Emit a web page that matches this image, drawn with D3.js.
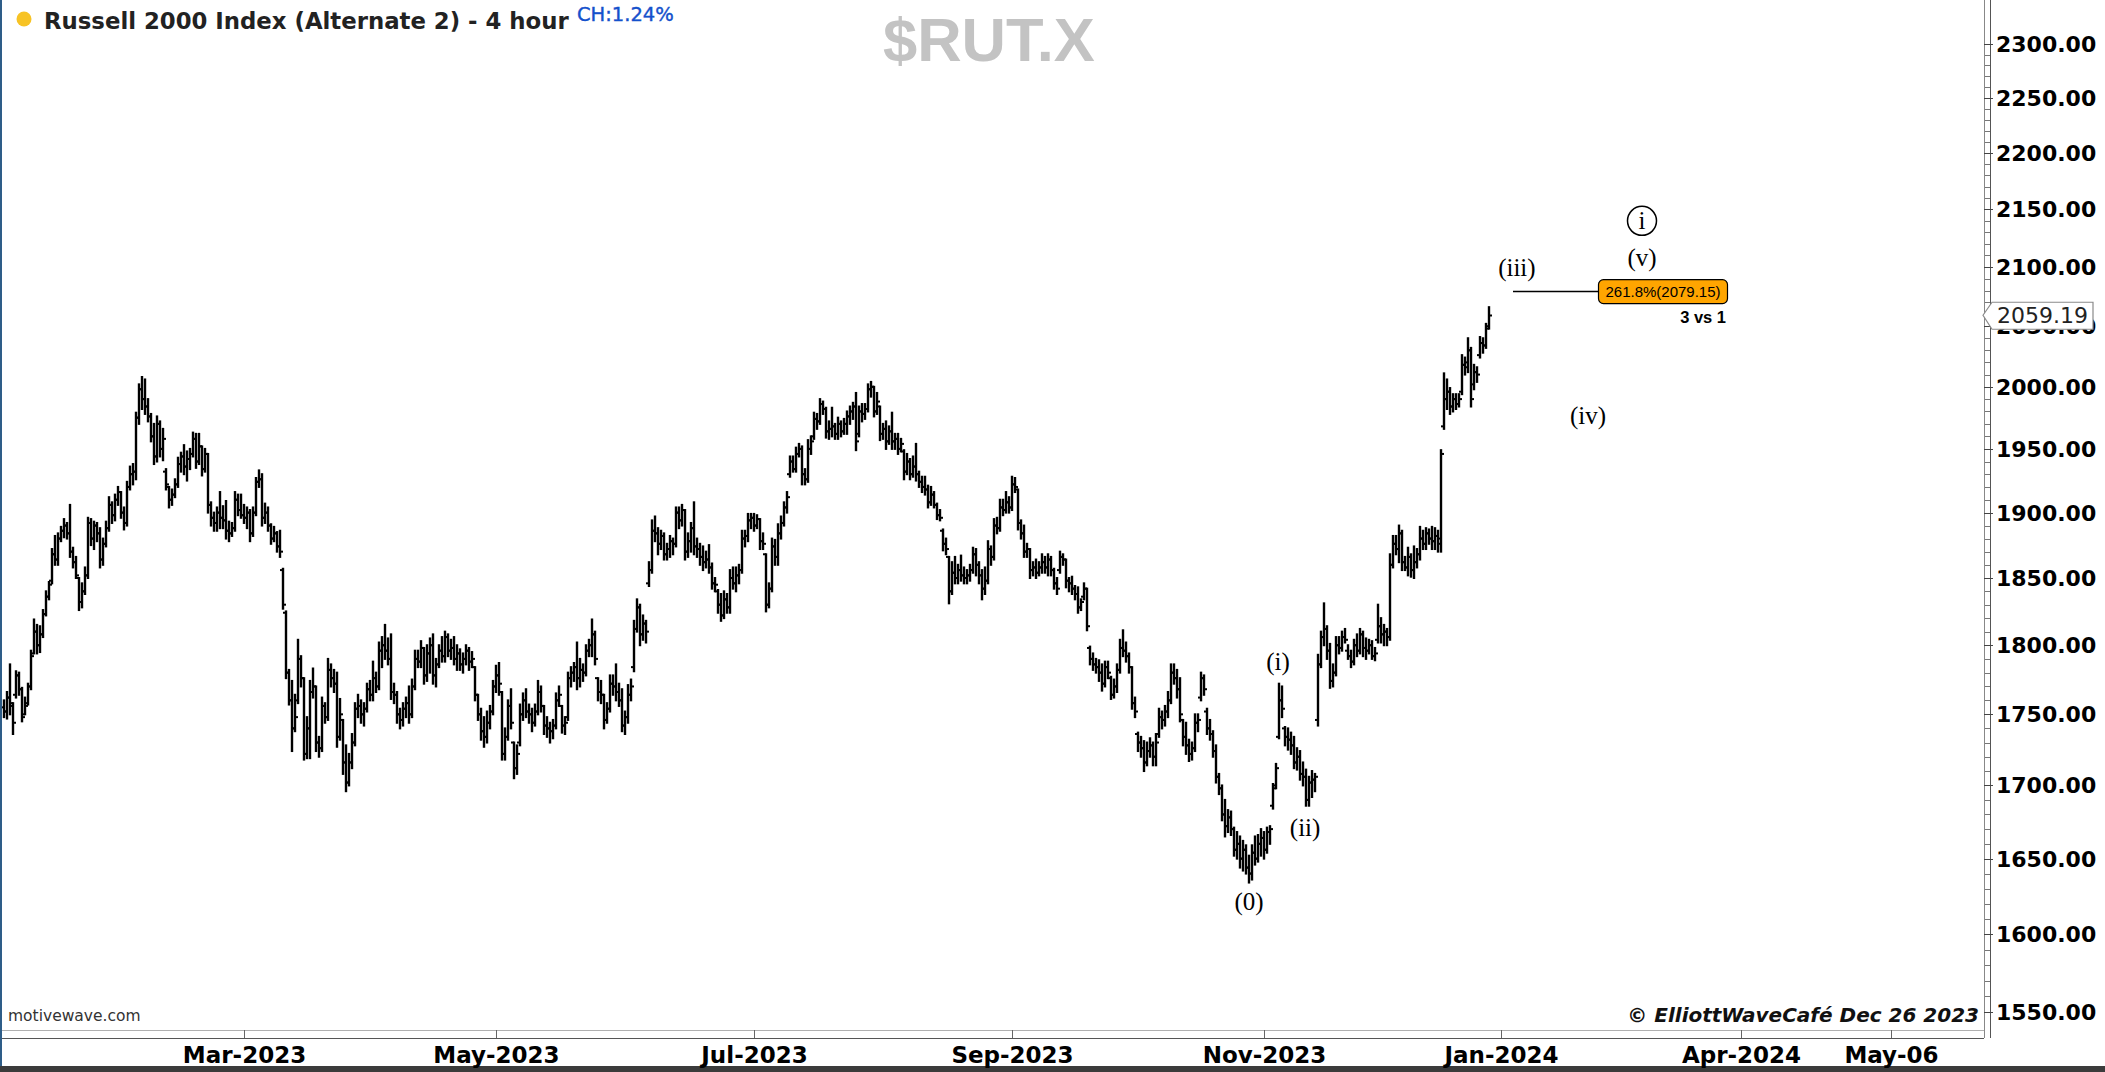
<!DOCTYPE html>
<html><head><meta charset="utf-8">
<script src="https://cdn.jsdelivr.net/npm/d3@7"></script>
<style>html,body{margin:0;padding:0;background:#fff;overflow:hidden}</style>
</head><body>
<svg id="chart" width="2105" height="1072"></svg>
<script>
// ---- 4-hour OHLC bars, Russell 2000 ($RUT.X), Jan 3 2023 - Dec 26 2023 ----
const open = [
1755,1752,1762,1756,1764,1778,1768,1750,1758,1770,
1794,1810,1800,1808,1823,1836,1848,1868,1864,1880,
1886,1890,1884,1870,1862,1850,1832,1840,1852,1892,
1880,1890,1884,1864,1876,1888,1906,1898,1910,1916,
1900,1892,1920,1930,1932,1975,1998,1990,1984,1976,
1960,1944,1970,1950,1932,1920,1910,1914,1922,1938,
1944,1936,1942,1946,1958,1940,1952,1934,1946,1906,
1896,1892,1900,1896,1894,1886,1884,1888,1910,1902,
1898,1896,1900,1884,1900,1924,1926,1896,1900,1890,
1880,1884,1874,1856,1824,1780,1760,1740,1760,1790,
1776,1722,1740,1766,1770,1730,1726,1756,1748,1782,
1776,1772,1734,1746,1716,1702,1716,1730,1754,1756,
1750,1754,1768,1764,1776,1770,1796,1800,1796,1790,
1766,1764,1750,1746,1754,1758,1750,1770,1790,1788,
1798,1778,1794,1800,1778,1786,1796,1792,1806,1796,
1798,1790,1794,1786,1790,1796,1788,1784,1764,1750,
1738,1734,1744,1752,1770,1778,1766,1722,1734,1756,
1730,1712,1730,1750,1760,1752,1750,1744,1752,1766,
1756,1742,1740,1738,1742,1760,1756,1742,1748,1776,
1780,1784,1776,1782,1780,1796,1800,1808,1776,1766,
1764,1746,1754,1772,1770,1766,1760,1742,1748,1764,
1784,1812,1828,1808,1816,1846,1856,1886,1884,1876,
1882,1868,1872,1878,1876,1900,1894,1902,1870,1878,
1888,1874,1872,1866,1862,1864,1858,1846,1840,1830,
1822,1834,1828,1850,1846,1852,1856,1880,1882,1894,
1896,1890,1895,1878,1868,1830,1842,1874,1866,1884,
1892,1904,1930,1940,1934,1946,1950,1930,1926,1950,
1960,1974,1972,1986,1982,1964,1966,1968,1962,1970,
1964,1970,1976,1980,1984,1962,1980,1978,1982,1998,
2000,1980,1984,1962,1966,1956,1964,1956,1958,1950,
1948,1932,1940,1930,1936,1930,1924,1920,1918,1908,
1914,1906,1898,1886,1876,1866,1840,1854,1850,1856,
1852,1850,1852,1856,1868,1860,1852,1842,1848,1872,
1866,1890,1888,1904,1902,1908,1904,1922,1918,1892,
1884,1870,1872,1856,1858,1854,1858,1862,1858,1864,
1856,1846,1856,1866,1864,1848,1846,1842,1838,1828,
1836,1842,1798,1790,1786,1784,1780,1772,1784,1776,
1764,1770,1782,1798,1796,1792,1784,1758,1736,1730,
1726,1716,1724,1728,1720,1736,1748,1746,1752,1760,
1780,1776,1768,1746,1734,1728,1722,1726,1744,1762,
1776,1752,1740,1736,1724,1706,1698,1680,1672,1678,
1670,1656,1660,1650,1656,1644,1640,1654,1650,1660,
1664,1656,1668,1686,1700,1734,1760,1740,1734,1732,
1728,1716,1720,1708,1706,1690,1702,1704,1746,1786,
1806,1812,1796,1774,1780,1800,1798,1806,1796,1792,
1788,1800,1796,1808,1798,1796,1800,1792,1804,1814,
1808,1810,1806,1860,1876,1872,1884,1862,1858,1866,
1856,1862,1868,1880,1876,1884,1880,1878,1882,1876,
1968,1990,1996,1984,1990,1986,1996,2018,2020,2030,
2002,2012,2026,2036,2034,2050];
const high = [
1760,1766,1786,1758,1781,1780,1769,1762,1772,1796,
1819,1815,1814,1826,1840,1847,1872,1882,1884,1889,
1895,1892,1906,1873,1866,1850,1846,1858,1896,1895,
1893,1892,1888,1880,1893,1912,1908,1914,1920,1916,
1904,1924,1936,1938,1979,2002,2008,2006,1990,1978,
1970,1976,1972,1966,1934,1920,1918,1926,1943,1947,
1953,1948,1950,1963,1962,1962,1952,1950,1946,1908,
1900,1904,1916,1905,1909,1893,1892,1916,1914,1914,
1906,1904,1902,1904,1927,1933,1930,1907,1904,1891,
1889,1885,1886,1857,1825,1782,1774,1764,1804,1792,
1776,1748,1774,1783,1770,1734,1762,1758,1790,1786,
1782,1780,1761,1746,1728,1722,1736,1758,1764,1760,
1758,1772,1774,1788,1780,1802,1806,1815,1805,1808,
1772,1766,1754,1758,1762,1770,1775,1796,1796,1803,
1798,1800,1805,1808,1790,1800,1806,1810,1808,1804,
1806,1800,1797,1794,1800,1798,1795,1784,1764,1754,
1748,1752,1756,1774,1785,1787,1766,1740,1760,1768,
1730,1728,1757,1765,1768,1757,1754,1757,1774,1770,
1756,1748,1744,1746,1765,1770,1756,1748,1780,1784,
1787,1802,1790,1786,1800,1804,1819,1810,1776,1774,
1764,1758,1778,1778,1786,1772,1768,1752,1771,1775,
1818,1834,1830,1822,1818,1862,1894,1897,1888,1886,
1884,1876,1882,1880,1904,1904,1906,1902,1884,1892,
1908,1880,1876,1874,1870,1875,1861,1850,1841,1838,
1840,1838,1856,1858,1858,1860,1886,1886,1899,1899,
1899,1898,1895,1884,1868,1846,1880,1879,1891,1897,
1908,1916,1944,1944,1951,1954,1952,1934,1957,1960,
1979,1978,1990,1988,1983,1972,1983,1970,1975,1972,
1974,1980,1984,1987,1995,1984,1986,1986,2002,2004,
2000,1995,1984,1970,1972,1968,1979,1962,1962,1958,
1949,1946,1942,1944,1954,1932,1928,1928,1921,1920,
1916,1907,1902,1887,1880,1866,1862,1866,1860,1867,
1858,1856,1860,1873,1872,1862,1856,1858,1878,1874,
1895,1896,1910,1910,1916,1912,1928,1927,1918,1894,
1890,1876,1872,1862,1864,1862,1868,1866,1868,1866,
1857,1850,1870,1868,1864,1850,1851,1844,1843,1834,
1846,1842,1799,1794,1790,1789,1786,1788,1788,1777,
1775,1786,1804,1811,1802,1794,1784,1762,1737,1734,
1731,1730,1733,1730,1736,1754,1752,1756,1766,1786,
1786,1782,1776,1746,1744,1732,1730,1750,1750,1780,
1778,1754,1746,1738,1728,1708,1700,1690,1683,1682,
1671,1668,1665,1662,1659,1652,1659,1665,1666,1670,
1668,1671,1672,1701,1715,1772,1770,1741,1740,1737,
1734,1726,1724,1716,1711,1706,1710,1708,1793,1810,
1831,1814,1801,1786,1806,1806,1810,1812,1800,1796,
1804,1808,1812,1810,1805,1804,1803,1798,1830,1820,
1815,1812,1868,1882,1882,1890,1886,1866,1873,1868,
1874,1872,1889,1886,1888,1887,1889,1888,1886,1949,
2011,2006,1999,1994,1994,1994,2026,2024,2040,2032,
2018,2016,2041,2040,2052,2066];
const low = [
1748,1747,1750,1736,1762,1764,1745,1750,1757,1768,
1794,1794,1795,1806,1822,1834,1846,1860,1860,1878,
1881,1880,1866,1858,1850,1826,1828,1838,1850,1875,
1872,1878,1858,1860,1874,1886,1892,1894,1906,1896,
1887,1890,1918,1922,1926,1970,1982,1978,1972,1956,
1938,1940,1944,1941,1918,1904,1906,1912,1920,1932,
1930,1925,1934,1944,1935,1938,1929,1932,1900,1890,
1886,1886,1888,1888,1880,1878,1882,1886,1898,1896,
1892,1888,1878,1882,1898,1920,1890,1892,1886,1876,
1878,1870,1866,1827,1776,1757,1724,1738,1758,1770,
1718,1719,1719,1762,1724,1720,1724,1744,1746,1770,
1766,1727,1732,1708,1696,1700,1712,1728,1748,1744,
1742,1752,1760,1760,1766,1768,1784,1790,1786,1761,
1758,1744,1740,1742,1748,1744,1748,1768,1784,1784,
1772,1774,1780,1772,1770,1784,1788,1788,1792,1790,
1786,1782,1782,1780,1786,1782,1784,1760,1746,1732,
1727,1730,1740,1750,1766,1764,1718,1718,1732,1740,
1705,1708,1728,1746,1748,1744,1738,1742,1750,1752,
1736,1734,1730,1733,1740,1756,1737,1736,1746,1770,
1774,1768,1770,1774,1778,1792,1792,1786,1760,1758,
1740,1744,1752,1764,1760,1756,1738,1736,1744,1760,
1781,1810,1800,1804,1802,1844,1854,1878,1868,1872,
1864,1864,1866,1868,1874,1888,1890,1864,1866,1870,
1868,1866,1860,1856,1858,1854,1842,1840,1824,1818,
1820,1824,1824,1842,1840,1846,1854,1874,1878,1888,
1886,1888,1872,1872,1825,1828,1840,1860,1860,1880,
1890,1900,1928,1932,1932,1944,1922,1922,1924,1946,
1958,1966,1970,1978,1959,1958,1960,1958,1958,1960,
1962,1962,1970,1974,1949,1960,1972,1974,1980,1992,
1976,1978,1957,1958,1950,1954,1950,1950,1946,1948,
1926,1930,1926,1928,1925,1920,1916,1914,1904,1906,
1904,1895,1894,1871,1868,1831,1838,1846,1846,1848,
1846,1846,1848,1854,1852,1846,1834,1838,1846,1860,
1864,1884,1886,1898,1900,1900,1902,1916,1887,1880,
1866,1866,1850,1852,1850,1852,1854,1854,1852,1852,
1842,1838,1854,1860,1843,1840,1838,1834,1824,1826,
1834,1811,1786,1782,1780,1774,1767,1770,1776,1761,
1762,1766,1780,1792,1788,1780,1754,1748,1724,1720,
1710,1714,1720,1714,1714,1734,1740,1742,1748,1758,
1772,1762,1745,1728,1722,1717,1718,1724,1738,1760,
1764,1736,1732,1720,1702,1694,1676,1665,1668,1666,
1652,1650,1644,1642,1640,1634,1636,1646,1648,1652,
1650,1654,1660,1684,1698,1733,1748,1728,1725,1722,
1712,1711,1704,1700,1686,1686,1692,1696,1742,1784,
1800,1790,1769,1770,1778,1794,1796,1802,1790,1784,
1786,1792,1794,1792,1790,1794,1790,1789,1802,1802,
1800,1800,1804,1858,1868,1862,1856,1856,1852,1851,
1850,1858,1864,1872,1872,1876,1872,1872,1870,1870,
1966,1982,1978,1980,1982,1984,1994,2010,2012,1984,
1998,2004,2024,2028,2032,2048];
const close = [
1752,1762,1758,1744,1778,1768,1748,1756,1770,1792,
1810,1800,1808,1823,1836,1845,1868,1864,1880,1886,
1890,1884,1870,1862,1852,1832,1840,1852,1892,1880,
1890,1884,1864,1876,1888,1906,1898,1910,1916,1900,
1892,1920,1930,1932,1975,1998,1990,1984,1976,1960,
1944,1970,1950,1958,1922,1910,1914,1922,1938,1944,
1936,1942,1946,1958,1940,1952,1934,1946,1906,1896,
1892,1900,1896,1894,1886,1884,1888,1910,1902,1898,
1896,1900,1884,1900,1924,1926,1896,1900,1890,1880,
1884,1874,1870,1830,1780,1760,1740,1748,1790,1776,
1722,1740,1766,1770,1730,1726,1756,1748,1782,1776,
1772,1734,1750,1716,1702,1716,1730,1754,1756,1750,
1754,1768,1764,1776,1770,1796,1800,1796,1790,1766,
1764,1750,1746,1754,1758,1750,1770,1790,1788,1798,
1778,1794,1800,1778,1786,1796,1792,1806,1796,1798,
1790,1794,1786,1790,1796,1788,1790,1764,1750,1738,
1734,1744,1752,1770,1778,1772,1722,1734,1756,1744,
1712,1722,1750,1760,1752,1750,1744,1752,1766,1756,
1742,1740,1738,1742,1760,1764,1742,1744,1776,1780,
1784,1776,1782,1780,1796,1800,1808,1790,1766,1764,
1746,1754,1772,1770,1766,1760,1742,1748,1764,1770,
1812,1828,1808,1816,1810,1856,1886,1884,1876,1882,
1868,1872,1878,1876,1900,1894,1902,1870,1878,1888,
1874,1872,1866,1862,1864,1858,1846,1845,1830,1822,
1834,1828,1850,1846,1852,1856,1880,1882,1894,1896,
1890,1895,1878,1876,1830,1842,1874,1866,1884,1892,
1904,1912,1940,1934,1946,1950,1930,1926,1950,1956,
1974,1972,1986,1982,1964,1966,1968,1962,1970,1964,
1970,1976,1980,1984,1956,1980,1978,1982,1998,2000,
1980,1988,1962,1966,1956,1964,1956,1958,1950,1954,
1932,1940,1930,1936,1930,1924,1920,1918,1908,1914,
1906,1898,1896,1876,1872,1840,1854,1850,1856,1852,
1850,1852,1856,1868,1860,1852,1842,1848,1872,1866,
1890,1888,1904,1902,1908,1904,1922,1920,1892,1884,
1870,1872,1856,1858,1854,1858,1862,1858,1864,1856,
1846,1842,1866,1864,1848,1846,1842,1838,1828,1832,
1842,1814,1790,1786,1784,1780,1772,1784,1780,1764,
1770,1782,1798,1796,1792,1784,1758,1752,1730,1726,
1716,1724,1728,1720,1730,1748,1746,1752,1760,1780,
1776,1768,1750,1734,1728,1722,1726,1744,1746,1776,
1768,1740,1736,1724,1706,1698,1680,1672,1678,1670,
1656,1660,1650,1656,1644,1640,1654,1650,1660,1664,
1656,1668,1670,1698,1712,1760,1754,1734,1732,1728,
1716,1720,1708,1706,1690,1702,1704,1706,1786,1806,
1812,1796,1774,1780,1800,1798,1806,1804,1792,1788,
1800,1796,1808,1798,1796,1800,1792,1794,1814,1808,
1810,1806,1860,1876,1872,1884,1862,1858,1866,1856,
1862,1868,1880,1876,1884,1880,1878,1882,1880,1946,
1990,1996,1984,1990,1986,1990,2018,2016,2030,1990,
2012,2010,2036,2034,2048,2059];

// axis ticks
const priceTicks = [1550,1600,1650,1700,1750,1800,1850,1900,1950,2000,2050,2100,2150,2200,2250,2300];
const timeTickIdx = [80,164,250,336,420,499,579,629];
const timeTickLabels = ["Mar-2023","May-2023","Jul-2023","Sep-2023","Nov-2023","Jan-2024","Apr-2024","May-06"];

// Elliott wave annotations (bar index, price)
const waveText  = ["(0)","(i)","(ii)","(iii)","(iv)","(v)"];
const waveIdx   = [415, 424.7, 433.7, 504.3, 528, 546];
const wavePrice = [1621, 1788, 1671, 2099, 1976, 2108];
const circledText = ["i"], circledIdx = [546], circledPrice = [2140];

const fibLevel = 2079.15, fibStartIdx = 503, fibBoxIdx = 553;
const fibText = "261.8%(2079.15)", fibNote = "3 vs 1";
const lastPrice = 2059.19;

// ---------- drawing ----------
const svg = d3.select("#chart");
const W = 2105, H = 1072;
const plotL = 2, plotR = 1984, plotB = 1030;
const x = d3.scaleLinear().domain([0, 660]).range([4, 1984]);
const y = d3.scaleLog().domain([1550, 2300]).range([1012, 44]);

svg.append("rect").attr("width", W).attr("height", H).attr("fill", "#fff");

// bars
const n = Math.min(open.length, high.length, low.length, close.length);
const bars = svg.append("g").attr("stroke", "#000").attr("stroke-width", 2.4);
for (let i = 0; i < n; i++) {
  const xi = x(i);
  bars.append("line").attr("x1", xi).attr("x2", xi).attr("y1", y(high[i]) - 1).attr("y2", y(low[i]) + 1);
  bars.append("line").attr("x1", xi - 3).attr("x2", xi).attr("y1", y(open[i])).attr("y2", y(open[i])).attr("stroke-width", 2);
  bars.append("line").attr("x1", xi).attr("x2", xi + 3).attr("y1", y(close[i])).attr("y2", y(close[i])).attr("stroke-width", 2);
}

// frame
svg.append("rect").attr("x", 0).attr("y", 0).attr("width", 2).attr("height", 1066).attr("fill", "#2e5d88");
svg.append("line").attr("x1", plotL).attr("x2", plotR).attr("y1", plotB + 0.5).attr("y2", plotB + 0.5).attr("stroke", "#b0b0b0");
svg.append("line").attr("x1", plotL).attr("x2", plotR).attr("y1", 1038.5).attr("y2", 1038.5).attr("stroke", "#555");
svg.append("line").attr("x1", plotR + 0.5).attr("x2", plotR + 0.5).attr("y1", 0).attr("y2", 1038).attr("stroke", "#888");
svg.append("line").attr("x1", 1990.5).attr("x2", 1990.5).attr("y1", 0).attr("y2", 1038).attr("stroke", "#555");
svg.append("rect").attr("x", 0).attr("y", 1066).attr("width", W).attr("height", 6).attr("fill", "#3b3b3b");

// time axis
const tg = svg.append("g");
timeTickIdx.forEach((t, k) => {
  const xt = Math.round(x(t)) + 0.5;
  tg.append("line").attr("x1", xt).attr("x2", xt).attr("y1", plotB).attr("y2", 1038).attr("stroke", "#666");
  tg.append("text").attr("x", xt).attr("y", 1063).attr("text-anchor", "middle")
    .attr("font-family", "DejaVu Sans").attr("font-weight", "bold").attr("font-size", 23).attr("fill", "#000")
    .text(timeTickLabels[k]);
});

// price axis: minor + major ticks
const minor = d3.range(1550, 2301, 10);
const yg = svg.append("g").attr("shape-rendering", "crispEdges");
minor.forEach(v => {
  const yy = Math.round(y(v)) + 0.5;
  yg.append("line").attr("x1", 1985).attr("x2", 1990).attr("y1", yy).attr("y2", yy).attr("stroke", "#777");
});
priceTicks.forEach(v => {
  const yy = Math.round(y(v)) + 0.5;
  yg.append("line").attr("x1", 1984).attr("x2", 1993).attr("y1", yy).attr("y2", yy).attr("stroke", "#444");
  svg.append("text").attr("x", 1996).attr("y", y(v) + 8)
    .attr("font-family", "DejaVu Sans").attr("font-weight", "bold").attr("font-size", 22).attr("fill", "#000")
    .text(d3.format(".2f")(v));
});

// last price marker
const ly = y(lastPrice);
svg.append("path")
  .attr("d", `M1983,${ly} L1992,${ly - 13} L2093,${ly - 13} L2093,${ly + 14} L1992,${ly + 14} Z`)
  .attr("fill", "#fff").attr("stroke", "#8a8a8a").attr("stroke-width", 1.2);
svg.append("text").attr("x", 1997).attr("y", ly + 8)
  .attr("font-family", "DejaVu Sans").attr("font-size", 22).attr("fill", "#222").text(d3.format(".2f")(lastPrice));

// fib projection
const fy = y(fibLevel);
svg.append("line").attr("x1", x(fibStartIdx)).attr("x2", x(fibBoxIdx) - 64).attr("y1", fy).attr("y2", fy)
  .attr("stroke", "#000").attr("stroke-width", 1.5);
svg.append("rect").attr("x", x(fibBoxIdx) - 64.5).attr("y", fy - 12).attr("width", 129).attr("height", 24)
  .attr("rx", 5).attr("fill", "#ffa500").attr("stroke", "#000").attr("stroke-width", 1.2);
svg.append("text").attr("x", x(fibBoxIdx)).attr("y", fy + 5.5).attr("text-anchor", "middle")
  .attr("font-family", "Liberation Sans").attr("font-size", 15).attr("fill", "#000").text(fibText);
svg.append("text").attr("x", x(fibBoxIdx) + 63).attr("y", fy + 31).attr("text-anchor", "end")
  .attr("font-family", "Liberation Sans").attr("font-weight", "bold").attr("font-size", 16.5).attr("fill", "#000").text(fibNote);

// wave labels
waveText.forEach((t, k) => {
  svg.append("text").attr("x", x(waveIdx[k])).attr("y", y(wavePrice[k]) + 8).attr("text-anchor", "middle")
    .attr("font-family", "Liberation Serif").attr("font-size", 25).attr("fill", "#000").text(t);
});
circledText.forEach((t, k) => {
  const cx = x(circledIdx[k]), cy = y(circledPrice[k]);
  svg.append("circle").attr("cx", cx).attr("cy", cy).attr("r", 14.5).attr("fill", "none").attr("stroke", "#000").attr("stroke-width", 1.5);
  svg.append("text").attr("x", cx).attr("y", cy + 8).attr("text-anchor", "middle")
    .attr("font-family", "Liberation Serif").attr("font-size", 25).attr("fill", "#000").text(t);
});

// header
svg.append("circle").attr("cx", 24).attr("cy", 19).attr("r", 7.5).attr("fill", "#f7c325");
svg.append("text").attr("x", 44).attr("y", 29)
  .attr("font-family", "DejaVu Sans").attr("font-weight", "bold").attr("font-size", 22.8).attr("fill", "#222")
  .text("Russell 2000 Index (Alternate 2) - 4 hour");
svg.append("text").attr("x", 577).attr("y", 21)
  .attr("font-family", "DejaVu Sans").attr("font-size", 19.5).attr("fill", "#1451cc").attr("stroke", "#1451cc").attr("stroke-width", 0.4)
  .text("CH:1.24%");
svg.append("text").attr("x", 883).attr("y", 61)
  .attr("font-family", "Liberation Sans").attr("font-weight", "bold").attr("font-size", 61.5).attr("fill", "#c3c3c3").text("$RUT.X");

// footer
svg.append("text").attr("x", 8).attr("y", 1021)
  .attr("font-family", "DejaVu Sans").attr("font-size", 15.5).attr("fill", "#333").text("motivewave.com");
svg.append("text").attr("x", 1979).attr("y", 1022).attr("text-anchor", "end")
  .attr("font-family", "DejaVu Sans").attr("font-weight", "bold").attr("font-style", "italic").attr("font-size", 20).attr("fill", "#111")
  .text("© ElliottWaveCafé Dec 26 2023");
</script>
</body></html>
